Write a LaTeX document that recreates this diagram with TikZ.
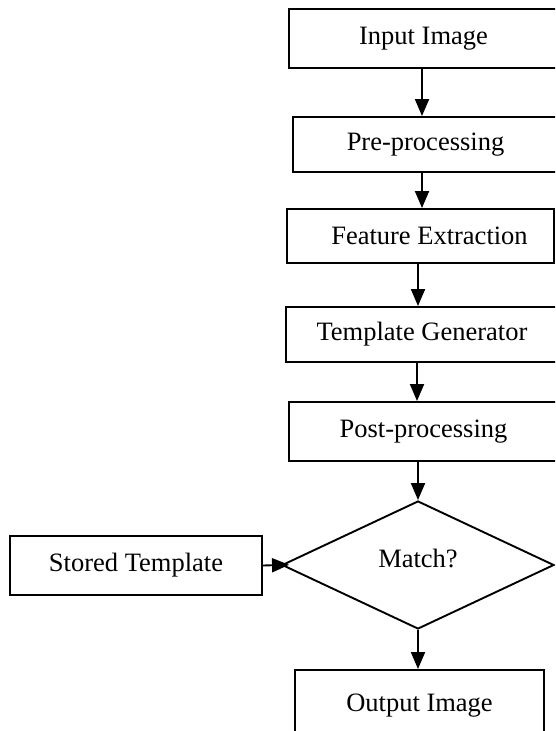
\documentclass[tikz,border=0pt]{standalone}
\usepackage{fontspec}
\setmainfont{Liberation Serif}
\usetikzlibrary{shapes.geometric,arrows.meta}
\tikzset{
  boxnode/.style={draw,line width=1.9pt,inner sep=0pt,font=\fontsize{26.5}{30}\selectfont},
  decide/.style={draw,diamond,line width=1.9pt,inner sep=0pt,minimum width=272pt,minimum height=128pt,font=\fontsize{26.5}{30}\selectfont},
  arr/.style={line width=1.9pt,-{Triangle[length=17pt,width=14pt]}}
}
\begin{document}
\begin{tikzpicture}[x=1pt,y=-1pt]
\useasboundingbox (0,0) rectangle (555,731);
\clip (0,0) rectangle (555,731);
\node[boxnode,minimum width=269pt,minimum height=59pt] (in) at (423.5,38.5) {Input Image};
\node[boxnode,minimum width=265pt,minimum height=55pt] (pre) at (425.5,144.5) {Pre-processing};
\node[boxnode,minimum width=267pt,minimum height=54pt] (feat) at (420.5,236) {\hspace*{18pt}Feature Extraction};
\node[boxnode,minimum width=272pt,minimum height=55pt] (tmpl) at (422,334.5) {Template Generator};
\node[boxnode,minimum width=269pt,minimum height=59pt] (post) at (423.5,431.5) {Post-processing};
\node[decide] (dia) at (418,565) {\raisebox{14pt}{Match?}};
\node[boxnode,minimum width=252pt,minimum height=59pt] (stored) at (136,565.5) {Stored Template};
\node[boxnode,minimum width=249pt,minimum height=75pt] (out) at (419.5,707.5) {\raisebox{9pt}{Output Image}};
\draw[arr] (in.south -| 422,0) -- (pre.north -| 422,0);
\draw[arr] (pre.south -| 422,0) -- (feat.north -| 422,0);
\draw[arr] (feat.south -| 418,0) -- (tmpl.north -| 418,0);
\draw[arr] (tmpl.south -| 417,0) -- (post.north -| 417,0);
\draw[arr] (post.south -| dia.north) -- (dia.north);
\draw[arr] (dia.south) -- (out.north -| dia.south);
\draw[arr,shorten >=-8pt] (stored.east) -- (dia.west);
\end{tikzpicture}
\end{document}
